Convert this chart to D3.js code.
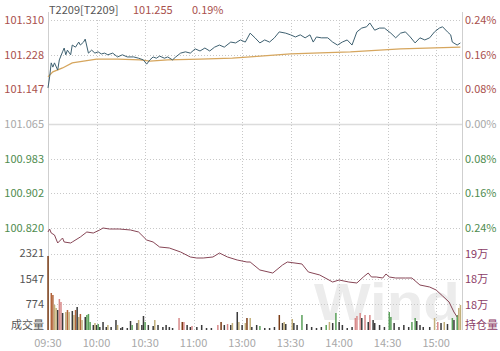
<!DOCTYPE html>
<html><head><meta charset="utf-8">
<script src="https://cdn.jsdelivr.net/npm/d3@7/dist/d3.min.js"></script>
<style>body{margin:0;background:#fff}svg{display:block}</style>
</head><body><svg id="c" width="500" height="351"></svg>
<script>
// ---- data ----
const timeTicks = [0,30,60,90,120,150,180,210,240];
const timeLabels = ["09:30","10:00","10:30","11:00","13:00","13:30","14:00","14:30","15:00"];
const priceTicks = [101.310,101.228,101.147,101.065,100.983,100.902,100.820];
const pctLabels = ["0.24%","0.16%","0.08%","0.00%","0.08%","0.16%","0.24%"];
const volTicks = [774,1547,2321];
const oiTicks = [191000,184000,177000];
const title = ["T2209[T2209]","101.255","0.19%"];

const priceMin = [0,1,2,3,4,6,7,9,10,11,12,14,15,17,19,20,22,23,25,27,29,31,33,35,37,40,43,46,49,53,56,59,61,63,65,67,69,72,74,77,79,82,85,88,91,94,97,100,103,106,109,113,116,119,122,125,128,131,134,137,140,143,147,150,153,156,159,162,164,166,169,173,176,179,182,185,188,191,194,197,199,202,205,208,212,215,218,221,224,227,230,233,236,239,242,244,247,249,250,253,255];
const price = [101.150,101.176,101.209,101.199,101.209,101.192,101.216,101.235,101.244,101.228,101.239,101.228,101.251,101.246,101.258,101.251,101.258,101.265,101.232,101.239,101.232,101.235,101.230,101.232,101.228,101.232,101.223,101.228,101.223,101.223,101.220,101.216,101.206,101.216,101.223,101.220,101.225,101.220,101.223,101.216,101.223,101.232,101.235,101.232,101.242,101.237,101.244,101.237,101.246,101.251,101.246,101.258,101.256,101.263,101.258,101.279,101.268,101.256,101.263,101.258,101.268,101.282,101.279,101.275,101.270,101.275,101.268,101.275,101.258,101.270,101.268,101.268,101.258,101.251,101.258,101.263,101.251,101.282,101.291,101.294,101.303,101.286,101.291,101.291,101.279,101.268,101.279,101.282,101.270,101.256,101.268,101.263,101.268,101.282,101.291,101.294,101.282,101.275,101.258,101.251,101.256];

const avgMin = [0,3,9,15,22,30,43,57,63,74,94,114,125,150,187,218,255];
const avgPrice = [101.176,101.188,101.197,101.209,101.213,101.218,101.218,101.216,101.213,101.216,101.218,101.220,101.223,101.230,101.235,101.242,101.246];

const oiMin = [0,1,2,4,6,9,10,14,15,20,24,28,32,34,38,44,51,56,61,65,69,75,82,88,92,96,102,106,111,117,123,125,131,139,145,148,157,161,168,176,180,186,191,195,198,200,203,207,209,211,215,221,225,230,236,240,244,248,251,253];
const oi = [197040,197860,196760,196220,194020,195390,194290,194020,194290,195670,197040,196760,197590,198140,197860,197860,197590,197040,194840,194290,192920,192650,191550,190180,189900,189900,190180,191270,190180,189350,188800,188800,186610,185780,187980,188800,188260,186060,185240,183310,183860,183310,183040,184690,185780,184690,184690,184410,185510,184690,184410,184410,184410,182490,181940,181120,179470,177820,175080,173710];

const volMin = [0,2,3,4,5,6,7,8,9,11,12,13,15,16,17,18,19,20,21,23,24,25,26,28,29,30,31,32,34,36,37,39,42,43,45,46,49,51,52,55,56,58,59,60,62,65,66,68,71,73,75,77,81,83,84,86,88,89,92,95,98,101,105,107,109,111,113,114,117,118,120,122,123,125,126,129,131,134,137,140,143,145,146,147,151,152,154,157,160,163,166,169,172,174,176,178,180,182,185,188,190,191,193,194,196,198,199,201,202,205,208,211,212,214,217,220,223,225,227,228,230,232,236,239,241,243,245,247,250,251,253,254,255];
const vol = [2246,1123,1062,760,668,607,940,850,516,546,607,546,577,455,607,698,395,486,303,395,455,486,243,152,212,152,182,91,243,91,152,91,303,152,60,91,60,273,152,212,303,152,425,243,152,121,303,152,91,152,91,60,364,243,243,152,91,121,91,152,60,60,152,243,152,182,152,212,546,243,152,212,364,364,91,152,121,60,60,91,455,212,243,182,334,212,152,455,182,91,60,91,152,243,212,516,243,152,60,91,364,425,516,364,455,243,455,303,212,152,91,546,395,212,91,152,91,243,364,273,152,91,91,364,243,212,243,182,364,303,455,668,760];
const volType = ["b","o","o","t","t","k","r","r","k","t","o","t","k","t","o","k","t","o","t","k","g","g","g","k","t","k","g","k","k","k","t","k","k","t","k","k","k","k","g","k","t","k","k","g","k","k","t","k","k","k","k","k","r","b","r","k","k","r","k","k","k","k","r","b","k","r","k","t","k","t","k","t","b","t","k","k","g","k","k","k","b","k","t","k","t","k","k","g","k","k","k","k","g","t","k","g","k","k","k","k","r","r","r","k","r","k","r","k","k","k","k","g","g","k","k","k","k","g","g","k","k","k","k","t","r","k","t","k","g","k","g","t","t"];

// ---- chart ----
const svg = d3.select("#c");
const L = 48, R = 462, PT = 20, PB = 228, VB = 330;
const font = "'Noto Sans CJK SC', 'Open Sans', sans-serif";
const x = d3.scaleLinear().domain([0,256]).range([L,R]);
const yP = d3.scaleLinear().domain([100.820,101.310]).range([PB,PT]);
const yV = d3.scaleLinear().domain([0,3095]).range([VB,PB]);
const yO = d3.scaleLinear().domain([177000,191000]).range([305,254]);
const colType = d3.scaleOrdinal().domain(["b","o","t","r","g","k"])
  .range(["#7a3c16","#b2643a","#c3b07a","#d88a8a","#5aa05a","#3a3a3a"]);

// watermark
svg.append("text").attr("x",314).attr("y",320).attr("font-family","Arial, sans-serif")
  .attr("font-weight","bold").attr("font-size",52).attr("fill","#ececec")
  .attr("textLength",146).attr("lengthAdjust","spacingAndGlyphs").text("Wind");

const g = svg.append("g");
// horizontal grid
priceTicks.forEach((t,i)=>{
  const y = Math.round(yP(t))+0.5;
  if (i===3) g.append("line").attr("x1",L).attr("x2",R).attr("y1",y).attr("y2",y).attr("stroke","#dcdcdc").attr("stroke-width",1.5);
  else g.append("line").attr("x1",L).attr("x2",R).attr("y1",y).attr("y2",y).attr("stroke","#c8c8c8").attr("stroke-dasharray","1,2");
});
volTicks.forEach(t=>{
  const y = Math.round(yV(t))+0.5;
  g.append("line").attr("x1",L).attr("x2",R).attr("y1",y).attr("y2",y).attr("stroke","#c8c8c8").attr("stroke-dasharray","1,2");
});
// vertical grid
timeTicks.slice(1).forEach(t=>{
  const xx = Math.round(x(t))+0.5;
  g.append("line").attr("x1",xx).attr("x2",xx).attr("y1",PT).attr("y2",VB).attr("stroke","#c8c8c8").attr("stroke-dasharray","1,2");
});
// borders
[L,R].forEach(xx=>g.append("line").attr("x1",xx+0.5).attr("x2",xx+0.5).attr("y1",PT-8).attr("y2",VB).attr("stroke","#cfcfcf"));

// volume bars
svg.append("g").selectAll("rect").data(volMin).join("rect")
  .attr("x",(d)=>x(d)-0.7).attr("width",1.5)
  .attr("y",(d,i)=>yV(vol[i])).attr("height",(d,i)=>VB-yV(vol[i]))
  .attr("fill",(d,i)=>colType(volType[i]));

// lines
const line = (xs,ys,sy)=>d3.line().x((d,i)=>x(xs[i])).y((d,i)=>sy(ys[i]))(xs);
svg.append("path").attr("d",line(oiMin,oi,yO)).attr("fill","none").attr("stroke","#874656").attr("stroke-width",1);
svg.append("path").attr("d",line(avgMin,avgPrice,yP)).attr("fill","none").attr("stroke","#d6a65e").attr("stroke-width",1.3);
svg.append("path").attr("d",line(priceMin,price,yP)).attr("fill","none").attr("stroke","#3e6070").attr("stroke-width",1);

// labels
const txt = (xx,y,s,col,anchor)=>svg.append("text").attr("x",xx).attr("y",y).attr("dy","0.35em")
  .attr("text-anchor",anchor).attr("font-family",font).attr("font-size",11).attr("fill",col).text(s);
const red="#a9504c", green="#4f8c4f", grey="#a8a8a8", vio="#8c3c66";
priceTicks.forEach((t,i)=>{
  const col = i<3?red:(i===3?grey:green);
  txt(44,yP(t),t.toFixed(3),col,"end");
  txt(465,yP(t),pctLabels[i],col,"start");
});
volTicks.forEach(t=>txt(44,yV(t),String(t),"#555","end"));
txt(44,325,"成交量","#555","end");
oiTicks.forEach(t=>txt(465,yO(t),Math.round(t/10000)+"万",vio,"start"));
txt(465,325,"持仓量",vio,"start");
timeTicks.forEach((t,i)=>txt(x(t),343,timeLabels[i],grey,"middle"));

// title
txt(49,10,title[0],"#555","start");
txt(133,10,title[1],red,"start");
txt(192,10,title[2],red,"start");
</script></body></html>
